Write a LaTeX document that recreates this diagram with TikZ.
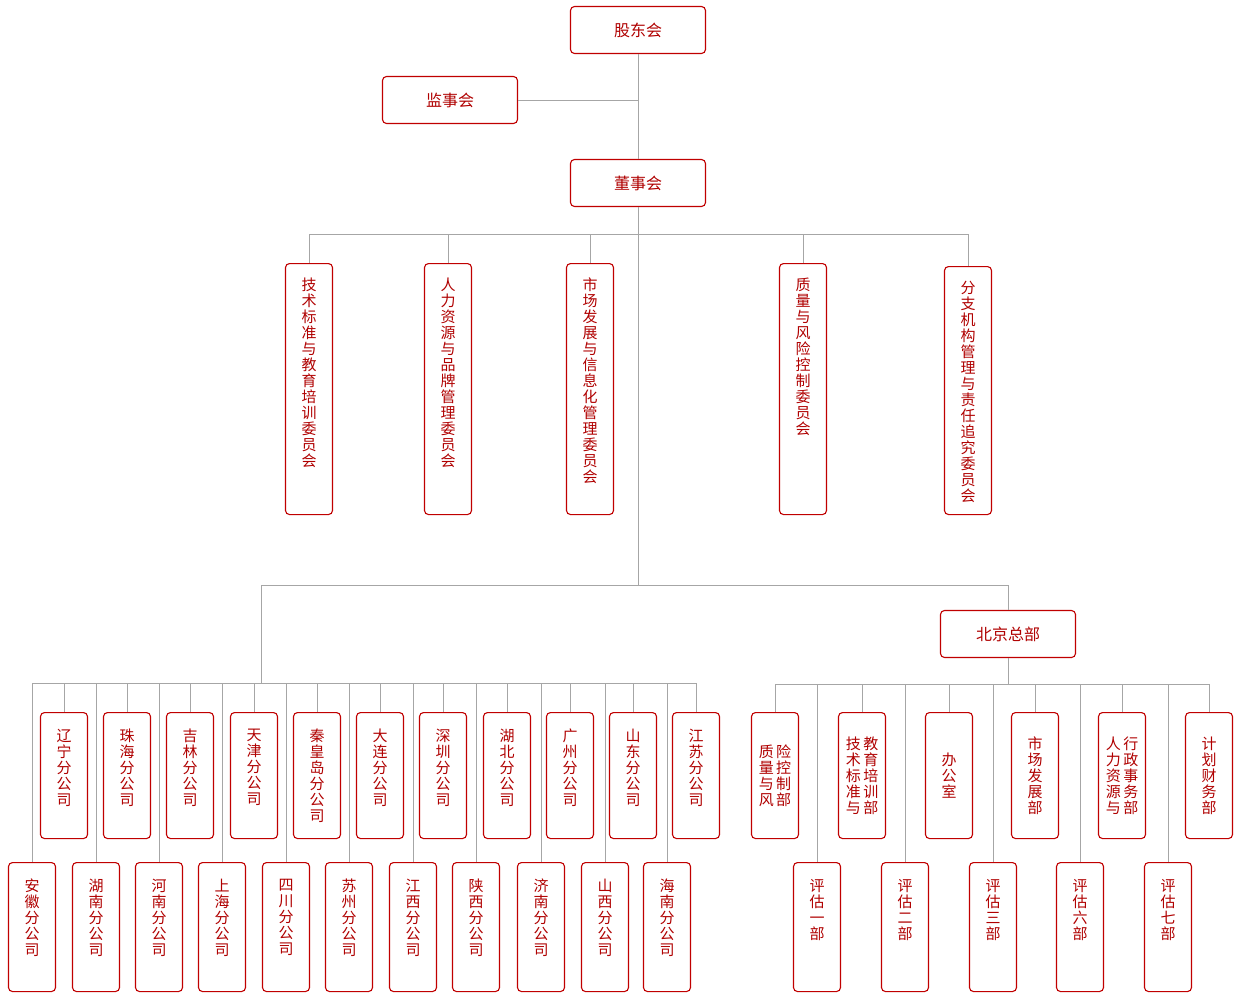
\documentclass[tikz,border=0pt]{standalone}
\usepackage{fontspec}
\setmainfont{Noto Sans CJK SC}
\usepackage{tikz}
\usetikzlibrary{positioning}
\definecolor{boxred}{HTML}{C00000}
\definecolor{txtred}{HTML}{B00000}
\definecolor{linkgray}{HTML}{A6A6A6}

\tikzset{
  every node/.style={font=\fontsize{15}{16}\selectfont, text=txtred},
  board/.style={draw=boxred, fill=white, line width=1.1pt, rounded corners=4pt,
    minimum width=135, minimum height=47, font=\fontsize{16}{17}\selectfont},
  tall/.style={draw=boxred, fill=white, line width=1.1pt, rounded corners=4pt,
    minimum width=47, minimum height=#1, anchor=north, align=center, inner sep=0pt},
  tall/.default=126,
  vlbl/.style={anchor=north, align=center, inner sep=0pt, yshift=-17},
  clbl/.style={anchor=north, align=center, inner sep=0pt, yshift=-15},
  link/.style={draw=linkgray, line width=1pt}
}

\begin{document}
\begin{tikzpicture}[x=1pt,y=-1pt]
  \useasboundingbox (0,0) rectangle (1242,1001);

  % board level
  \node[board] (gudong) at (638,30) {股东会};
  \node[board] (jianshi) at (450,100) {监事会};
  \node[board] (dongshi) at (638,183) {董事会};

  % committees
  \node[tall=251, label={[clbl]north:技\\术\\标\\准\\与\\教\\育\\培\\训\\委\\员\\会}] (jishu) at (309,263) {};
  \node[tall=251, label={[clbl]north:人\\力\\资\\源\\与\\品\\牌\\管\\理\\委\\员\\会}] (renli) at (448,263) {};
  \node[tall=251, label={[clbl]north:市\\场\\发\\展\\与\\信\\息\\化\\管\\理\\委\\员\\会}] (shichang) at (590,263) {};
  \node[tall=251, label={[clbl]north:质\\量\\与\\风\\险\\控\\制\\委\\员\\会}] (zhiliang) at (803,263) {};
  \node[tall=248, label={[clbl]north:分\\支\\机\\构\\管\\理\\与\\责\\任\\追\\究\\委\\员\\会}] (fenzhi) at (968,266) {};

  \node[board] (beijing) at (1008,634) {北京总部};

  % branches, upper row
  \node[tall, label={[vlbl]north:辽\\宁\\分\\公\\司}] (liaoning) at (64,712) {};
  \node[tall, label={[vlbl]north:珠\\海\\分\\公\\司}] (zhuhai) at (127,712) {};
  \node[tall, label={[vlbl]north:吉\\林\\分\\公\\司}] (jilin) at (190,712) {};
  \node[tall, label={[vlbl]north:天\\津\\分\\公\\司}] (tianjin) at (254,712) {};
  \node[tall, label={[vlbl]north:秦\\皇\\岛\\分\\公\\司}] (qinhuangdao) at (317,712) {};
  \node[tall, label={[vlbl]north:大\\连\\分\\公\\司}] (dalian) at (380,712) {};
  \node[tall, label={[vlbl]north:深\\圳\\分\\公\\司}] (shenzhen) at (443,712) {};
  \node[tall, label={[vlbl]north:湖\\北\\分\\公\\司}] (hubei) at (507,712) {};
  \node[tall, label={[vlbl]north:广\\州\\分\\公\\司}] (guangzhou) at (570,712) {};
  \node[tall, label={[vlbl]north:山\\东\\分\\公\\司}] (shandong) at (633,712) {};
  \node[tall, label={[vlbl]north:江\\苏\\分\\公\\司}] (jiangsu) at (696,712) {};

  % branches, lower row
  \node[tall=129, label={[vlbl]north:安\\徽\\分\\公\\司}] (anhui) at (32,862) {};
  \node[tall=129, label={[vlbl]north:湖\\南\\分\\公\\司}] (hunan) at (96,862) {};
  \node[tall=129, label={[vlbl]north:河\\南\\分\\公\\司}] (henan) at (159,862) {};
  \node[tall=129, label={[vlbl]north:上\\海\\分\\公\\司}] (shanghai) at (222,862) {};
  \node[tall=129, label={[vlbl]north:四\\川\\分\\公\\司}] (sichuan) at (286,862) {};
  \node[tall=129, label={[vlbl]north:苏\\州\\分\\公\\司}] (suzhou) at (349,862) {};
  \node[tall=129, label={[vlbl]north:江\\西\\分\\公\\司}] (jiangxi) at (413,862) {};
  \node[tall=129, label={[vlbl]north:陕\\西\\分\\公\\司}] (shaanxi) at (476,862) {};
  \node[tall=129, label={[vlbl]north:济\\南\\分\\公\\司}] (jinan) at (541,862) {};
  \node[tall=129, label={[vlbl]north:山\\西\\分\\公\\司}] (shanxi) at (605,862) {};
  \node[tall=129, label={[vlbl]north:海\\南\\分\\公\\司}] (hainan) at (667,862) {};

  % headquarters departments
  \node[tall] (zhikong) at (775,712) {质\,险\\量\,控\\与\,制\\风\,部};
  \node[tall] (jiaopei) at (862,712) {技\,教\\术\,育\\标\,培\\准\,训\\与\,部};
  \node[tall] (bangong) at (949,712) {办\\公\\室};
  \node[tall] (shichangbu) at (1035,712) {市\\场\\发\\展\\部};
  \node[tall] (renshi) at (1122,712) {人\,行\\力\,政\\资\,事\\源\,务\\与\,部};
  \node[tall] (caiwu) at (1209,712) {计\\划\\财\\务\\部};

  \node[tall=129, label={[vlbl]north:评\\估\\一\\部}] (pinggu1) at (817,862) {};
  \node[tall=129, label={[vlbl]north:评\\估\\二\\部}] (pinggu2) at (905,862) {};
  \node[tall=129, label={[vlbl]north:评\\估\\三\\部}] (pinggu3) at (993,862) {};
  \node[tall=129, label={[vlbl]north:评\\估\\六\\部}] (pinggu6) at (1080,862) {};
  \node[tall=129, label={[vlbl]north:评\\估\\七\\部}] (pinggu7) at (1168,862) {};

  % connectors
  \coordinate (jmid) at (638,100);
  \coordinate (cbus) at (638,234);
  \coordinate (jbus) at (638,585);
  \coordinate (fbus) at (261,683);
  \coordinate (hbus) at (1008,684);

  \draw[link] (gudong) -- (dongshi);
  \draw[link] (jianshi) -- (jmid);
  \draw[link] (dongshi) -- (jbus);
  \foreach \c in {jishu,renli,shichang,zhiliang,fenzhi}
    \draw[link] (cbus) -| (\c.north);
  \draw[link] (jbus) -| (fbus);
  \draw[link] (jbus) -| (beijing.north);
  \foreach \b in {liaoning,zhuhai,jilin,tianjin,qinhuangdao,dalian,shenzhen,hubei,guangzhou,shandong,jiangsu,
                  anhui,hunan,henan,shanghai,sichuan,suzhou,jiangxi,shaanxi,jinan,shanxi,hainan}
    \draw[link] (fbus) -| (\b.north);
  \draw[link] (beijing) -- (hbus);
  \foreach \d in {zhikong,jiaopei,bangong,shichangbu,renshi,caiwu,pinggu1,pinggu2,pinggu3,pinggu6,pinggu7}
    \draw[link] (hbus) -| (\d.north);
\end{tikzpicture}
\end{document}
